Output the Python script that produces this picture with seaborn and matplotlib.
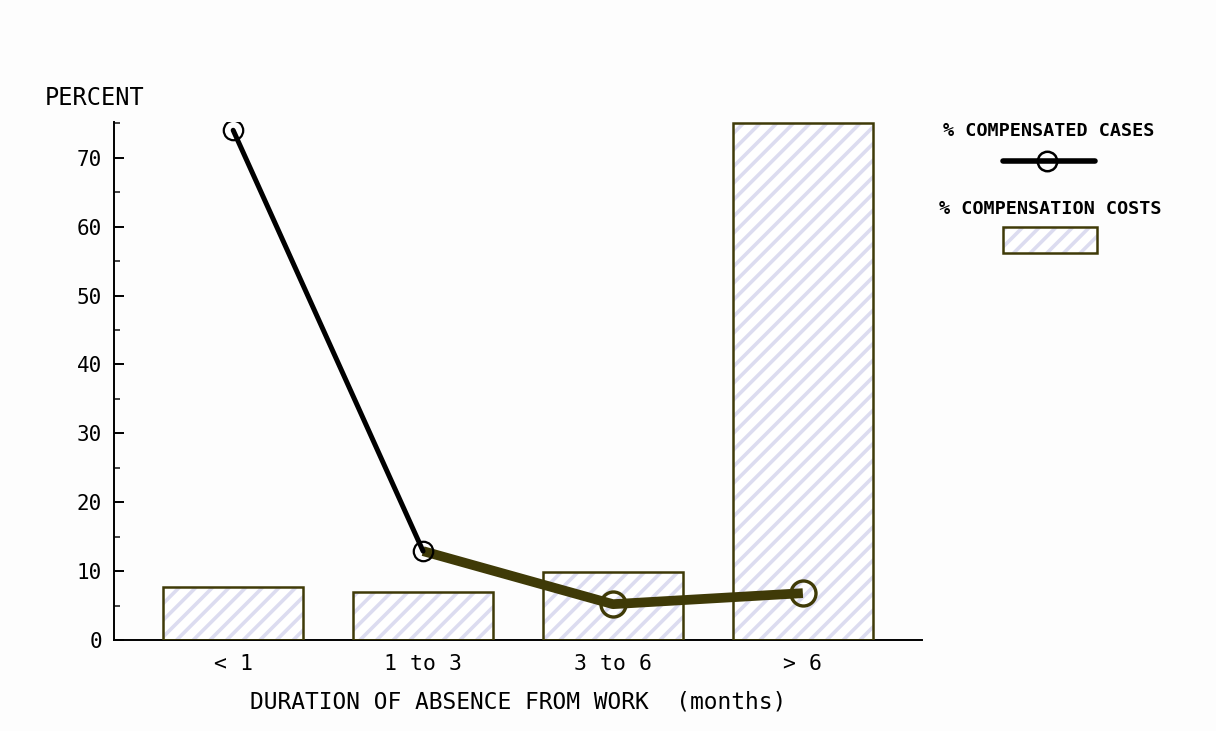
import matplotlib
matplotlib.use("Agg")
import matplotlib.pyplot as plt
from matplotlib.ticker import MultipleLocator
from matplotlib.lines import Line2D
from matplotlib.patches import Rectangle
import seaborn as sns
import pandas as pd
import numpy as np

# data
categories = ['< 1', '1 to 3', '3 to 6', '> 6']
comp_costs = [7.7, 7.0, 9.9, 75.0]     # % compensation costs (bars)
comp_cases = [74.0, 12.9, 5.2, 6.8]    # % compensated cases (line)

olive = '#3f3a07'
stripe = '#dcdcf0'

sns.set_style('ticks')
plt.rcParams['font.family'] = ['DejaVu Sans Mono', 'DejaVu Sans']
plt.rcParams['hatch.linewidth'] = 2.6
plt.rcParams['text.color'] = 'black'

df = pd.DataFrame({'duration': categories, 'costs': comp_costs})

fig = plt.figure(figsize=(12.16, 7.31), dpi=100)
fig.patch.set_facecolor('#fdfdfd')
ax = fig.add_axes([0.094, 0.1245, 0.664, 0.7086])
ax.set_facecolor('#fdfdfd')

# hatched fill first, outline on top
sns.barplot(data=df, x='duration', y='costs', order=categories, width=0.74,
            color='white', ax=ax)
for p in ax.patches:
    p.set_hatch('//')
    p.set_edgecolor(stripe)
    p.set_linewidth(0)
    ax.add_patch(Rectangle(p.get_xy(), p.get_width(), p.get_height(),
                           fill=False, edgecolor=olive, linewidth=1.8, zorder=3))

xpos = np.arange(len(categories))
# thick olive line, first segment black and thinner
ax.plot(xpos[1:], comp_cases[1:], color=olive, lw=7, zorder=4, solid_capstyle='butt')
ax.plot(xpos[:2], comp_cases[:2], color='black', lw=3.6, zorder=5)
ax.plot(xpos[:2], comp_cases[:2], 'o', ms=14, mfc='none', mec='black', mew=1.6, zorder=6)
ax.plot(xpos[2:], comp_cases[2:], 'o', ms=18, mfc='none', mec=olive, mew=2.4, zorder=6)

ax.set_xlim(-0.626, 3.626)
ax.set_ylim(0, 75.2)
ax.yaxis.set_major_locator(MultipleLocator(10))
ax.yaxis.set_minor_locator(MultipleLocator(5))
ax.tick_params(axis='y', which='major', direction='in', length=7, width=1.4,
               labelsize=15, pad=9, colors='black')
ax.tick_params(axis='y', which='minor', direction='in', length=4, width=1.2)
ax.tick_params(axis='x', length=0, labelsize=15.5, pad=10, labelcolor='black')
for side in ['top', 'right']:
    ax.spines[side].set_visible(False)
ax.spines['left'].set_linewidth(1.4)
ax.spines['bottom'].set_linewidth(1.4)
ax.spines['left'].set_color('black')
ax.spines['bottom'].set_color('black')
ax.set_xlabel('DURATION OF ABSENCE FROM WORK  (months)', fontsize=16.5,
              labelpad=12, color='black')
ax.set_ylabel('')

fig.text(45 / 1216, 1 - 98 / 731, 'PERCENT', fontsize=17, va='center', ha='left')

# legend on the right
fig.text(1049 / 1216, 1 - 131 / 731, '% COMPENSATED CASES', fontsize=13.3,
         fontweight='bold', ha='center', va='center')
fy = 1 - 161 / 731
fig.add_artist(Line2D([1003 / 1216, 1095 / 1216], [fy, fy], color='black', lw=4))
fig.add_artist(Line2D([1047 / 1216], [fy], marker='o', ms=14, mfc='none',
                      mec='black', mew=1.8))
fig.text(1050 / 1216, 1 - 209 / 731, '% COMPENSATION COSTS', fontsize=13.3,
         fontweight='bold', ha='center', va='center')
box_fill = Rectangle((1003 / 1216, 1 - 253 / 731), 94 / 1216, 26 / 731,
                     transform=fig.transFigure, facecolor='white', hatch='//',
                     edgecolor=stripe, linewidth=0)
box_edge = Rectangle((1003 / 1216, 1 - 253 / 731), 94 / 1216, 26 / 731,
                     transform=fig.transFigure, fill=False, edgecolor=olive,
                     linewidth=1.8)
fig.add_artist(box_fill)
fig.add_artist(box_edge)

fig.savefig('out.png', dpi=100, facecolor=fig.get_facecolor())
